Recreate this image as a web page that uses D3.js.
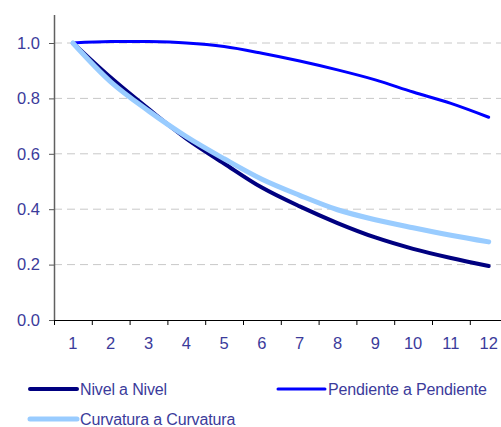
<!DOCTYPE html>
<html><head><meta charset="utf-8">
<script src="https://cdn.jsdelivr.net/npm/d3@7"></script>
<style>body{margin:0;background:#fff;}svg{display:block;font-family:"Liberation Sans",Arial,sans-serif;}</style>
</head><body><svg id="c" width="501" height="427"></svg>
<script>
const categories = ["1","2","3","4","5","6","7","8","9","10","11","12"];
const nivel = [1.0,0.875,0.762,0.655,0.565,0.478,0.41,0.35,0.298,0.257,0.224,0.195];
const pendiente = [1.0,1.005,1.005,1.0,0.987,0.963,0.935,0.903,0.867,0.823,0.782,0.732];
const curvatura = [1.0,0.86,0.755,0.662,0.582,0.508,0.45,0.398,0.362,0.333,0.306,0.282];
const yTicks = [0.0,0.2,0.4,0.6,0.8,1.0];
const seriesNames = ["Nivel a Nivel","Pendiente a Pendiente","Curvatura a Curvatura"];
const seriesColors = ["#000080","#0000FF","#99CCFF"];
const seriesWidths = [4,3,5];

const svg = d3.select("#c");
const x = d3.scaleBand().domain(categories).range([54,507.6]);
const y = d3.scaleLinear().domain([0,1.2]).range([320,-12.4]);
const textColor = "#3B3B9B";

svg.append("g").selectAll("line").data(yTicks.filter(d=>d>0)).join("line")
  .attr("x1",54).attr("x2",501).attr("y1",d=>y(d)).attr("y2",d=>y(d))
  .attr("stroke","#c8c8c8").attr("stroke-width",1).attr("stroke-dasharray","8,5");

const ya = svg.append("g").attr("transform","translate(54,0)")
  .call(d3.axisLeft(y).tickValues(yTicks).tickFormat(d3.format(".1f")).tickSize(5).tickPadding(9));
ya.select(".domain").remove();
ya.selectAll(".tick line").attr("stroke","#555");
ya.selectAll("text").attr("fill",textColor).style("font-size","16.5px").attr("font-family","Liberation Sans, Arial, sans-serif");
svg.append("line").attr("x1",54.5).attr("x2",54.5).attr("y1",15).attr("y2",320).attr("stroke","#606060").attr("stroke-width",1.5);

const xa = svg.append("g").attr("transform","translate(0,320)")
  .call(d3.axisBottom(x).tickSize(0).tickPadding(17));
xa.select(".domain").remove();
xa.selectAll("text").attr("fill",textColor).style("font-size","16.5px").attr("font-family","Liberation Sans, Arial, sans-serif");
svg.append("line").attr("x1",54).attr("x2",501).attr("y1",320.5).attr("y2",320.5).attr("stroke","#000").attr("stroke-width",1.2);
svg.append("g").selectAll("line").data(categories).join("line")
  .attr("x1",d=>x(d)+0.5).attr("x2",d=>x(d)+0.5).attr("y1",320).attr("y2",325)
  .attr("stroke","#000").attr("stroke-width",1);

const data = [nivel,pendiente,curvatura];
const line = d3.line().x((d,i)=>x(categories[i])+x.bandwidth()/2).y(d=>y(d)).curve(d3.curveCatmullRom.alpha(0.5));
[1,0,2].forEach(k=>{
  svg.append("path").datum(data[k]).attr("d",line).attr("fill","none")
    .attr("stroke",seriesColors[k]).attr("stroke-width",seriesWidths[k]).attr("stroke-linecap","round");
});

const legPos = [[30,389],[278,389],[30,419]];
seriesNames.forEach((n,k)=>{
  const [lx,ly]=legPos[k];
  svg.append("line").attr("x1",lx).attr("x2",lx+47).attr("y1",ly).attr("y2",ly)
    .attr("stroke",seriesColors[k]).attr("stroke-width",seriesWidths[k]).attr("stroke-linecap","round");
  svg.append("text").attr("x",lx+50).attr("y",ly+5.5).text(n)
    .attr("fill",textColor).style("font-size","16px").style("letter-spacing","-0.15px");
});
</script></body></html>
